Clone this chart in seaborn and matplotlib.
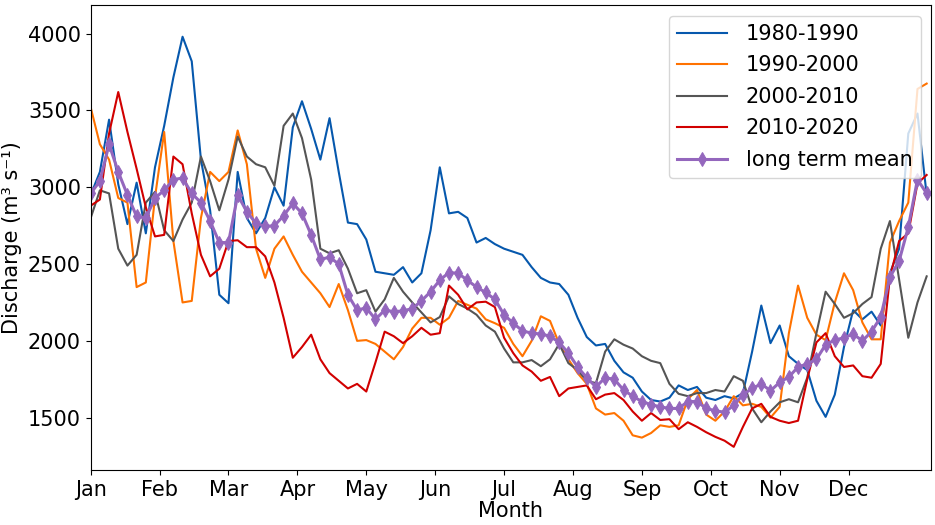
import numpy as np
import pandas as pd
import matplotlib
matplotlib.use('Agg')
import matplotlib.pyplot as plt
import seaborn as sns

# day of year, sampled every 4 days
days = list(range(0, 365, 4))

month_labels = ['Jan', 'Feb', 'Mar', 'Apr', 'May', 'Jun',
                'Jul', 'Aug', 'Sep', 'Oct', 'Nov', 'Dec']

q_1980_1990 = [2950, 3100, 3440, 3020, 2760, 3030, 2700, 3130,
               3400, 3715, 3980, 3820, 3180, 2850, 2300, 2245,
               3100, 2800, 2700, 2800, 3000, 2880, 3390, 3560,
               3380, 3180, 3450, 3100, 2770, 2760, 2660, 2450,
               2440, 2430, 2480, 2380, 2440, 2720, 3130, 2830,
               2840, 2800, 2640, 2670, 2630, 2600, 2580, 2560,
               2480, 2410, 2380, 2370, 2300, 2150, 2025, 1970,
               1980, 1870, 1795, 1760, 1670, 1615, 1605, 1630,
               1710, 1680, 1700, 1630, 1615, 1640, 1625, 1660,
               1930, 2230, 1985, 2100, 1900, 1850, 1810, 1610,
               1505, 1650, 1960, 2200, 2140, 2190, 2100, 2440,
               2600, 3350, 3480, 2950]

q_1990_2000 = [3520, 3280, 3180, 2930, 2900, 2350, 2380, 2935,
               3360, 2650, 2250, 2260, 2800, 3100, 3040, 3100,
               3370, 3150, 2600, 2410, 2600, 2680, 2560, 2450,
               2380, 2310, 2220, 2370, 2200, 2000, 2005, 1980,
               1930, 1880, 1960, 2080, 2150, 2150, 2105, 2150,
               2260, 2235, 2210, 2140, 2115, 2085, 1980, 1900,
               2000, 2160, 2130, 1980, 1880, 1790, 1720, 1560,
               1520, 1530, 1480, 1385, 1370, 1400, 1450, 1440,
               1450, 1620, 1680, 1520, 1480, 1540, 1640, 1580,
               1590, 1570, 1500, 1570, 2050, 2360, 2150, 2040,
               2005, 2250, 2440, 2330, 2120, 2010, 2010, 2640,
               2780, 2900, 3640, 3675]

q_2000_2010 = [2800, 2980, 2960, 2600, 2490, 2560, 2900, 2970,
               2720, 2650, 2790, 2900, 3200, 3040, 2850, 3050,
               3330, 3200, 3150, 3130, 3010, 3400, 3480, 3320,
               3050, 2600, 2570, 2590, 2470, 2310, 2330, 2190,
               2270, 2410, 2320, 2250, 2185, 2120, 2155, 2290,
               2240, 2210, 2170, 2100, 2060, 1950, 1860, 1860,
               1875, 1835, 1880, 1980, 1855, 1810, 1740, 1725,
               1930, 2010, 1975, 1950, 1900, 1870, 1855, 1720,
               1655, 1640, 1660, 1660, 1680, 1670, 1770, 1740,
               1560, 1470, 1540, 1600, 1620, 1600, 1760, 2050,
               2320, 2240, 2150, 2180, 2240, 2285, 2600, 2780,
               2400, 2020, 2250, 2420]

q_2010_2020 = [2880, 2920, 3350, 3620, 3360, 3120, 2870, 2680,
               2690, 3200, 3150, 2830, 2560, 2420, 2470, 2650,
               2655, 2610, 2610, 2550, 2380, 2150, 1890, 1960,
               2040, 1880, 1790, 1740, 1690, 1720, 1670, 1860,
               2060, 2030, 1985, 2030, 2085, 2040, 2050, 2360,
               2300, 2205, 2250, 2255, 2220, 2020, 1920, 1840,
               1800, 1740, 1765, 1640, 1690, 1700, 1710, 1620,
               1650, 1660, 1615, 1540, 1480, 1530, 1485, 1490,
               1425, 1470, 1440, 1405, 1375, 1350, 1310, 1440,
               1560, 1590, 1505, 1480, 1465, 1480, 1750, 1990,
               2050, 1900, 1830, 1840, 1770, 1760, 1850, 2415,
               2650, 2700, 3025, 3080]

q_mean = [2960, 3040, 3280, 3100, 2950, 2810, 2800, 2930,
          2980, 3050, 3060, 2960, 2900, 2780, 2640, 2640,
          2950, 2840, 2765, 2745, 2750, 2815, 2895, 2830,
          2690, 2530, 2545, 2500, 2300, 2200, 2215, 2140,
          2200, 2190, 2195, 2210, 2260, 2320, 2395, 2445,
          2440, 2395, 2350, 2315, 2270, 2170, 2115, 2065,
          2050, 2045, 2030, 1990, 1920, 1830, 1760, 1700,
          1760, 1750, 1680, 1640, 1605, 1585, 1570, 1560,
          1560, 1605, 1605, 1560, 1545, 1535, 1580, 1650,
          1690, 1720, 1675, 1730, 1765, 1830, 1850, 1880,
          1975, 2005, 2020, 2045, 2000, 2060, 2155, 2415,
          2520, 2740, 3050, 2960]

periods = ['1980-1990', '1990-2000', '2000-2010', '2010-2020']
colors = ['#0658ad', '#ff7200', '#555555', '#d10000']
mean_color = '#9467bd'

# long table for the decade curves
frames = []
for name, vals in zip(periods, [q_1980_1990, q_1990_2000, q_2000_2010, q_2010_2020]):
    frames.append(pd.DataFrame({'day': days, 'Q': vals, 'period': name}))
df = pd.concat(frames, ignore_index=True)
df_mean = pd.DataFrame({'day': days, 'Q': q_mean})

plt.rcParams['font.family'] = ['DejaVu Sans']
fig, ax = plt.subplots(figsize=(9.35, 5.25), dpi=100)
fig.subplots_adjust(left=0.097, right=0.996, top=0.990, bottom=0.105)

sns.lineplot(data=df, x='day', y='Q', hue='period', hue_order=periods,
             palette=colors, linewidth=1.5, ax=ax)
sns.lineplot(data=df_mean, x='day', y='Q', color=mean_color, linewidth=2.2,
             marker='d', markersize=7, markeredgecolor=mean_color,
             label='long term mean', ax=ax)

ax.set_xlim(0, 366)
ax.set_ylim(1160, 4185)
ax.set_xticks(range(0, 360, 30))
ax.set_xticklabels(month_labels)
ax.set_yticks([1500, 2000, 2500, 3000, 3500, 4000])
ax.tick_params(labelsize=15)
ax.set_xlabel('Month', fontsize=15, labelpad=1)
ax.set_ylabel('Discharge (m\u00b3 s\u207b\u00b9)', fontsize=15)
ax.legend(loc='upper right', fontsize=15, handlelength=2.4, handletextpad=0.9,
          labelspacing=0.55)

fig.savefig('out.png', dpi=100)
